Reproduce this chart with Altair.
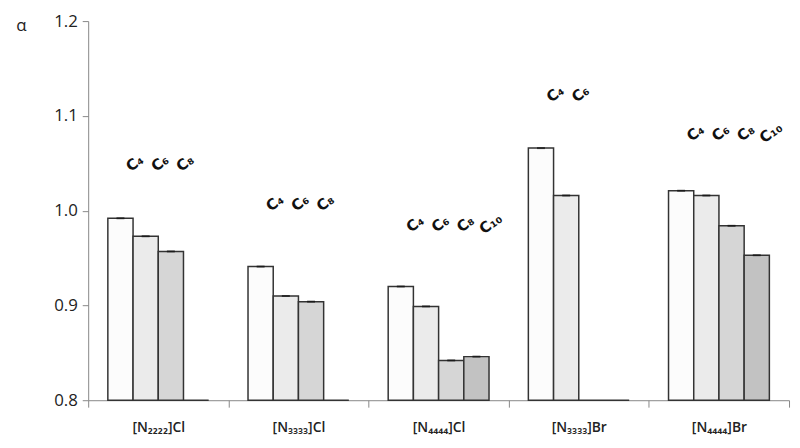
import altair as alt
import pandas as pd

groups = ["[N₂₂₂₂]Cl", "[N₃₃₃₃]Cl", "[N₄₄₄₄]Cl", "[N₃₃₃₃]Br", "[N₄₄₄₄]Br"]
series = ["C₄", "C₆", "C₈", "C₁₀"]
c4 = [0.992, 0.941, 0.920, 1.066, 1.021]
c6 = [0.973, 0.910, 0.899, 1.016, 1.016]
c8 = [0.957, 0.904, 0.842, None, 0.984]
c10 = [None, None, 0.846, None, 0.953]
label_heights = [1.050, 1.008, 0.986, 1.123, 1.082]
fills = ["#fcfcfc", "#ebebeb", "#d6d6d6", "#c2c2c2"]
baseline = 0.8

rows = []
for gi, g in enumerate(groups):
    for s, vals in zip(series, [c4, c6, c8, c10]):
        v = vals[gi]
        rows.append({
            "group": g,
            "series": s,
            "val": v if v is not None else baseline,
            "present": v is not None,
            "lab_y": label_heights[gi],
        })
df = pd.DataFrame(rows)
df_present = df[df["present"]]

x = alt.X(
    "group:N",
    sort=groups,
    scale=alt.Scale(paddingInner=0, paddingOuter=0),
    axis=alt.Axis(
        title=None, labelAngle=0, tickBand="extent", domainColor="#888888",
        tickColor="#888888", tickSize=7, labelFont="Open Sans", labelFontSize=14,
        labelFontWeight=600, labelColor="#222222", labelPadding=14,
    ),
)
xo = alt.XOffset(
    "series:N", sort=series,
    scale=alt.Scale(domain=series, paddingInner=0, paddingOuter=0.78),
)
y = alt.Y(
    "val:Q",
    scale=alt.Scale(domain=[0.8, 1.2], zero=False, nice=False),
    axis=alt.Axis(
        values=[0.8, 0.9, 1.0, 1.1, 1.2], format=".1f", grid=False,
        title="α", titleAngle=0, titleX=-68, titleY=5, titleAlign="center",
        titleBaseline="middle", titleFont="Open Sans", titleFontSize=17,
        titleFontWeight="normal", titleColor="#222222",
        domainColor="#888888", tickColor="#888888", tickSize=6,
        labelFont="Open Sans", labelFontSize=17, labelColor="#222222",
        labelPadding=5,
    ),
)

bars = alt.Chart(df).mark_bar(stroke="#333333", strokeWidth=1.5).encode(
    x=x, xOffset=xo, y=y, y2=alt.datum(baseline),
    fill=alt.Fill("series:N", scale=alt.Scale(domain=series, range=fills), legend=None),
)

ticks = alt.Chart(df_present).mark_tick(color="#111111", thickness=2, size=8).encode(
    x=x, xOffset=xo, y=alt.Y("val:Q"),
)

labels = alt.Chart(df_present).mark_text(
    angle=325, fontSize=15, fontWeight="bold", font="DejaVu Sans",
    dx=12, dy=8, color="#111111",
).encode(
    x=x, xOffset=xo, y=alt.Y("lab_y:Q"), text="series:N",
)

chart = alt.layer(bars, ticks, labels).properties(
    width=708, height=383,
    autosize=alt.AutoSizeParams(type="none"),
    padding={"left": 81, "top": 11, "right": 3, "bottom": 42},
).configure_view(stroke=None)

chart.save("out.html", embed_options={"renderer": "svg", "actions": False})
